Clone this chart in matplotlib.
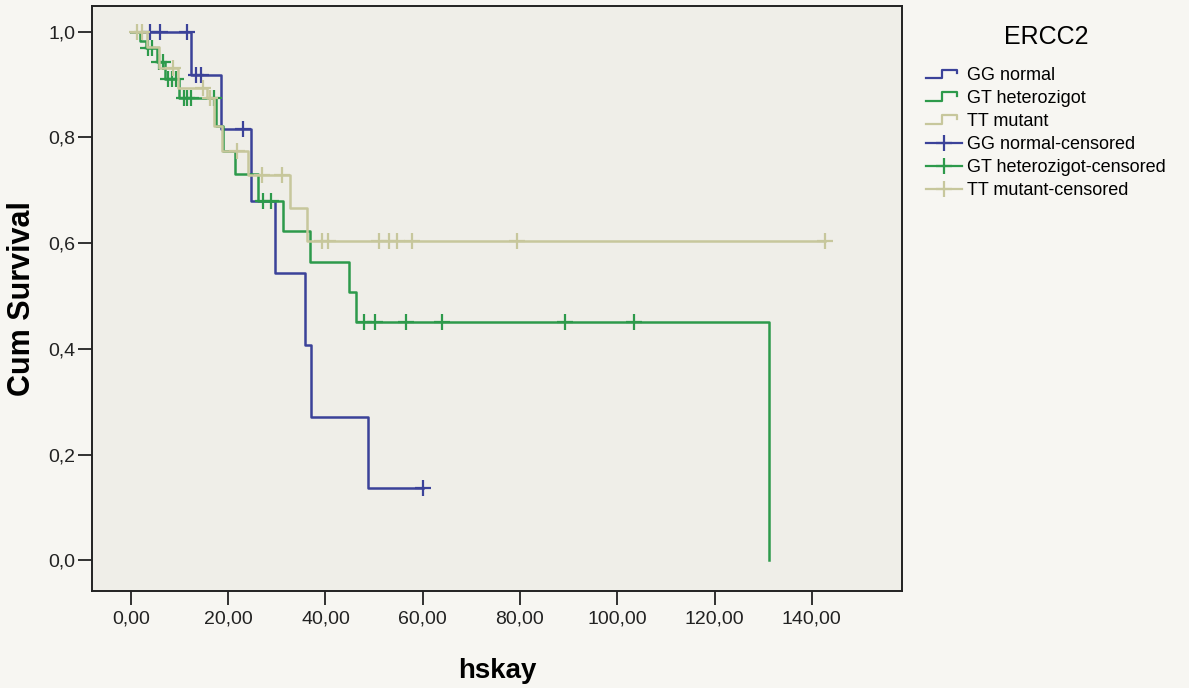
import numpy as np
import matplotlib
matplotlib.use("Agg")
import matplotlib.pyplot as plt
from matplotlib.lines import Line2D
from matplotlib.legend_handler import HandlerBase

plt.rcParams['font.family'] = ['Liberation Sans', 'DejaVu Sans']

# Kaplan-Meier steps (time, survival after the drop)
gg_times = [0.0, 12.3, 18.6, 24.7, 29.6, 35.8, 37.0, 48.7, 60.0]
gg_surv = [1.0, 0.917, 0.815, 0.679, 0.543, 0.407, 0.272, 0.136, 0.136]
gg_cens = [3.9, 6.0, 11.5, 13.3, 14.5, 23.0, 60.0]

gt_times = [0.0, 1.9, 3.1, 5.3, 7.0, 9.9, 17.5, 18.9, 21.4, 26.1, 31.2,
            36.8, 44.9, 46.2, 131.2]
gt_surv = [1.0, 0.983, 0.968, 0.942, 0.911, 0.875, 0.822, 0.775, 0.731,
           0.679, 0.622, 0.565, 0.507, 0.45, 0.0]
gt_cens = [3.5, 4.3, 5.8, 6.6, 7.6, 8.4, 9.3, 10.9, 11.5, 12.3, 17.0,
           27.1, 28.9, 47.9, 50.2, 56.5, 63.9, 89.2, 103.4]

tt_times = [0.0, 3.3, 5.8, 9.7, 15.6, 17.1, 18.7, 24.1, 32.7, 36.2, 142.7]
tt_surv = [1.0, 0.97, 0.932, 0.894, 0.875, 0.822, 0.775, 0.728, 0.667,
           0.603, 0.603]
tt_cens = [1.2, 2.3, 8.6, 14.8, 16.2, 21.8, 26.9, 31.0, 39.2, 40.5, 51.1,
           53.0, 54.7, 57.7, 79.3, 142.7]

group_names = ["GG normal", "GT heterozigot", "TT mutant"]
colors = ["#3b4299", "#2d9a4b", "#c7c79c"]

x_ticks = [0, 20, 40, 60, 80, 100, 120, 140]
y_ticks = [0.0, 0.2, 0.4, 0.6, 0.8, 1.0]


class StepHandler(HandlerBase):
    # little step icon like the SPSS legend
    def create_artists(self, legend, orig_handle, xdescent, ydescent,
                       width, height, fontsize, trans):
        xs = np.array([0, 0.45, 0.45, 0.85, 0.85]) * width - xdescent
        ys = np.array([0.2, 0.2, 0.85, 0.85, 0.55]) * height - ydescent
        line = Line2D(xs, ys, color=orig_handle.get_color(), lw=1.6)
        line.set_transform(trans)
        return [line]


def surv_at(times, surv, t):
    i = np.searchsorted(times, t, side='right') - 1
    return np.array(surv)[i]


fig = plt.figure(figsize=(11.89, 6.88), dpi=100, facecolor="#f7f6f2")
ax = fig.add_axes([0.0774, 0.141, 0.681, 0.85])
ax.set_facecolor("#efeee8")

data = [(gg_times, gg_surv, gg_cens), (gt_times, gt_surv, gt_cens),
        (tt_times, tt_surv, tt_cens)]
for (times, surv, cens), c in zip(data, colors):
    ax.step(times, surv, where='post', color=c, lw=1.8)
    ax.plot(cens, surv_at(times, surv, cens), linestyle='none', marker='+',
            markersize=12, markeredgewidth=1.6, color=c)

ax.set_xlim(-8.0, 158.5)
ax.set_ylim(-0.058, 1.048)
ax.set_xticks(x_ticks)
ax.set_xticklabels([f"{v:.2f}".replace(".", ",") for v in x_ticks])
ax.set_yticks(y_ticks)
ax.set_yticklabels([f"{v:.1f}".replace(".", ",") for v in y_ticks])
ax.tick_params(direction='out', length=10, width=1.3, labelsize=14,
               colors='#222222', pad=2)
ax.tick_params(axis='x', pad=4)
for s in ax.spines.values():
    s.set_linewidth(1.4)
    s.set_color('#222222')

ax.set_xlabel("hskay", fontsize=20, fontweight='bold', labelpad=22)
ax.set_ylabel("Cum Survival", fontsize=22, fontweight='bold', labelpad=8)

handles = [Line2D([], [], color=c) for c in colors]
handles += [Line2D([], [], color=c, marker='+', markersize=11,
                   markeredgewidth=1.6, lw=1.6) for c in colors]
labels = group_names + [n + "-censored" for n in group_names]
handler_map = {h: StepHandler() for h in handles[:3]}
leg = fig.legend(handles, labels, handler_map=handler_map, title="ERCC2",
                 loc='upper left', bbox_to_anchor=(0.765, 0.987),
                 frameon=False, fontsize=13, title_fontsize=18,
                 handlelength=2.0, handletextpad=0.3, labelspacing=0.33)
leg._legend_box.sep = 13

fig.savefig("out.png", dpi=100, facecolor=fig.get_facecolor())
